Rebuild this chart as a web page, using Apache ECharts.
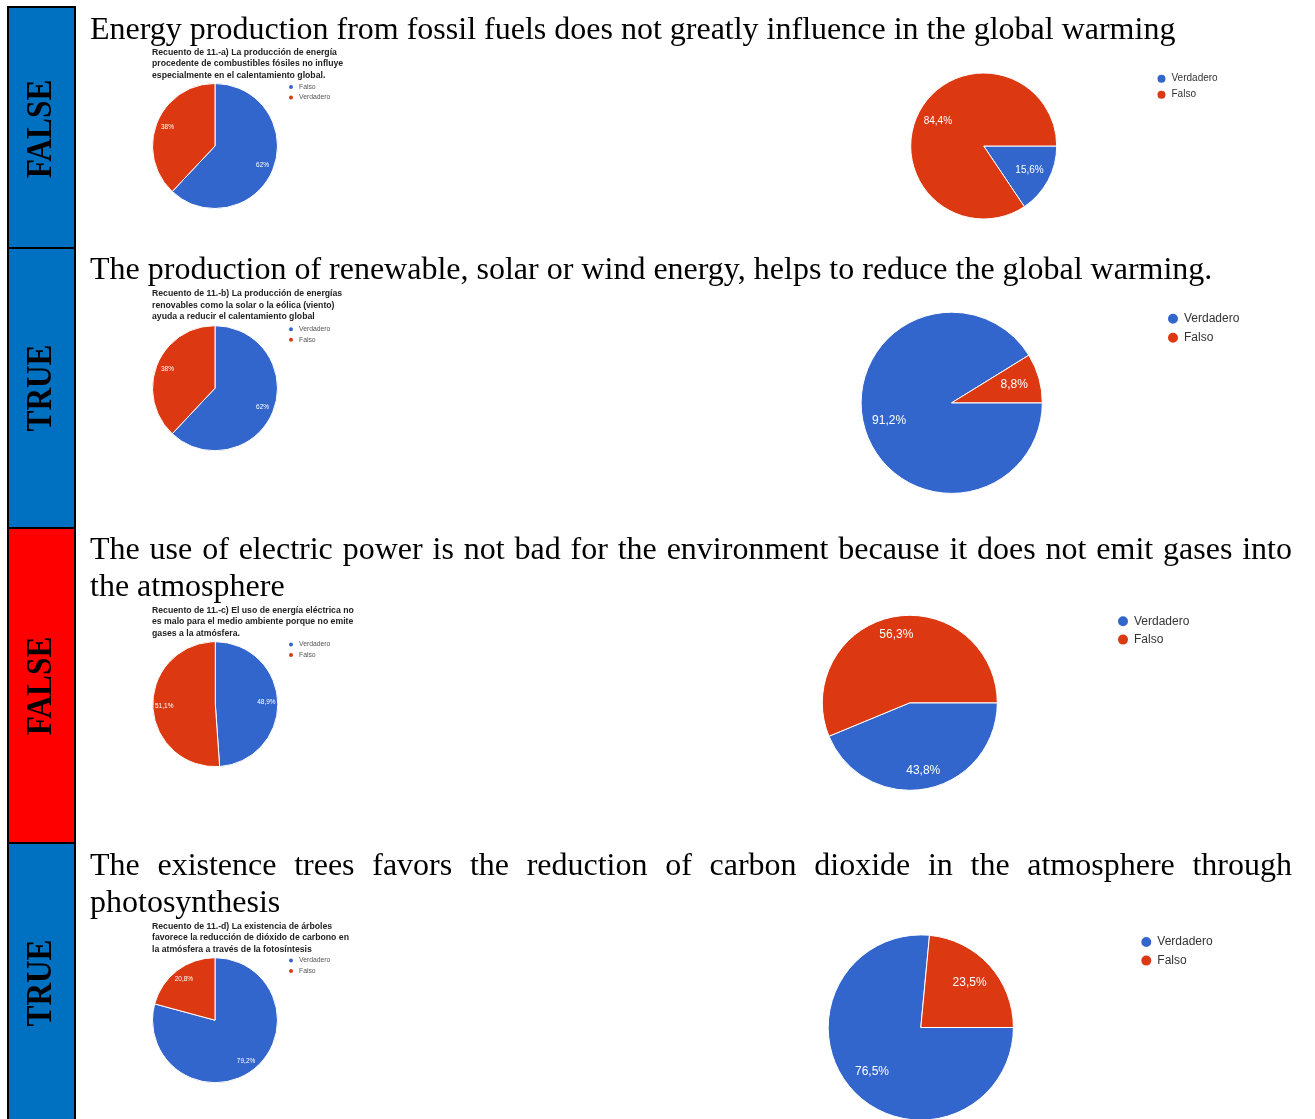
<!DOCTYPE html>
<html><head><meta charset="utf-8">
<script src="https://cdn.jsdelivr.net/npm/echarts@6/dist/echarts.min.js"></script>
<style>html,body{margin:0;padding:0;background:#fff;overflow:hidden}#c{width:1315px;height:1119px}</style>
</head><body><div id="c"></div>
<script>
// ---------- data ----------
const bandLabels = ['FALSE', 'TRUE', 'FALSE', 'TRUE'];
const headingLines = [
  ['Energy production from fossil fuels does not greatly influence in the global warming'],
  ['The production of renewable, solar or wind energy, helps to reduce the global warming.'],
  ['The use of electric power is not bad for the environment because it does not emit gases into', 'the atmosphere'],
  ['The existence trees favors the reduction of carbon dioxide in the atmosphere through', 'photosynthesis']
];
const smallTitles = [
  ['Recuento de 11.-a) La producción de energía', 'procedente de combustibles fósiles no influye', 'especialmente en el calentamiento global.'],
  ['Recuento de 11.-b) La producción de energías', 'renovables como la solar o la eólica (viento)', 'ayuda a reducir el calentamiento global'],
  ['Recuento de 11.-c) El uso de energía eléctrica no', 'es malo para el medio ambiente porque no emite', 'gases a la atmósfera.'],
  ['Recuento de 11.-d) La existencia de árboles', 'favorece la reducción de dióxido de carbono en', 'la atmósfera a través de la fotosíntesis']
];
const smallNames = [['Falso', 'Verdadero'], ['Verdadero', 'Falso'], ['Verdadero', 'Falso'], ['Verdadero', 'Falso']];
const smallValues = [[62, 38], [62, 38], [48.9, 51.1], [79.2, 20.8]];
const bigNames = [['Verdadero', 'Falso'], ['Verdadero', 'Falso'], ['Verdadero', 'Falso'], ['Verdadero', 'Falso']];
const bigValues = [[15.6, 84.4], [91.2, 8.8], [43.8, 56.3], [76.5, 23.5]];

// ---------- layout & style ----------
const BLUE = '#3366CC', RED = '#DC3912';
const bandColors = ['#0070C0', '#0070C0', '#FF0000', '#0070C0'];
const bands = [[7, 248], [248, 528], [528, 843], [843, 1125]];
const bandTextY = [129, 388, 686, 983];
const headingFont = 32;
const headingY = [[30.8], [271], [551, 587.5], [867, 903.5]];
const headingJustify = [[false], [false], [true, false], [true, false]];
const headingLeft = 90, headingRight = 1292;
const smallPies = [
  { cx: 215, cy: 146, titleY: 52.5, legY: 87 },
  { cx: 215, cy: 388.2, titleY: 293.8, legY: 329.3 },
  { cx: 215.3, cy: 704.2, titleY: 610.7, legY: 644.5 },
  { cx: 215, cy: 1020.2, titleY: 926.7, legY: 960.5 }
];
const SMALL_R = 62.5;
const bigPies = [
  { cx: 983.7, cy: 146, r: 73, k: 0.67, fs: 10, lx: 1155.5, ly: 78.7, lgap: 16, icon: 10, lfs: 10 },
  { cx: 951.7, cy: 402.8, r: 90.6, k: 0.685, fs: 12, lx: 1166, ly: 319, lgap: 19.4, icon: 12, lfs: 12 },
  { cx: 909.8, cy: 702.8, r: 87.5, k: 0.755, fs: 12, lx: 1116, ly: 621.4, lgap: 18.8, icon: 12, lfs: 12 },
  { cx: 920.8, cy: 1027.5, r: 92.6, k: 0.68, fs: 12, lx: 1139.3, ly: 942.2, lgap: 19, icon: 12, lfs: 12 }
];
const SERIF = '"Liberation Serif", "Times New Roman", serif';
const SANS = '"Liberation Sans", Arial, sans-serif';

function fmt(v) {
  return (Number.isInteger(v) ? String(v) : v.toFixed(1).replace('.', ',')) + '%';
}

// ---------- graphic elements ----------
const mctx = document.createElement('canvas').getContext('2d');
const elements = [];
bands.forEach((b, i) => {
  elements.push({
    type: 'rect', shape: { x: 8, y: b[0], width: 67, height: b[1] - b[0] },
    style: { fill: bandColors[i], stroke: '#000', lineWidth: 2 }, z: 1
  });
  elements.push({
    type: 'text', x: 42, y: bandTextY[i], rotation: Math.PI / 2, scaleX: 0.87,
    style: { text: bandLabels[i], fontSize: 36, fontWeight: 'bold', fontFamily: SERIF, fill: '#000',
      textAlign: 'center', textVerticalAlign: 'middle' }, z: 2
  });
});
headingLines.forEach((lines, i) => {
  lines.forEach((line, j) => {
    const y = headingY[i][j];
    if (headingJustify[i][j]) {
      mctx.font = headingFont + 'px ' + SERIF;
      const words = line.split(' ');
      const widths = words.map(w => mctx.measureText(w).width);
      const total = widths.reduce((a, b) => a + b, 0);
      const gap = (headingRight - headingLeft - total) / (words.length - 1);
      let x = headingLeft;
      words.forEach((w, k) => {
        elements.push({ type: 'text', x: x, y: y,
          style: { text: w, fontSize: headingFont, fontFamily: SERIF, fill: '#000', textVerticalAlign: 'middle' } });
        x += widths[k] + gap;
      });
    } else {
      elements.push({ type: 'text', x: headingLeft, y: y,
        style: { text: line, fontSize: headingFont, fontFamily: SERIF, fill: '#000', textVerticalAlign: 'middle' } });
    }
  });
});
smallPies.forEach((p, i) => {
  smallTitles[i].forEach((t, j) => {
    elements.push({ type: 'text', x: 152, y: p.titleY + j * 11.4,
      style: { text: t, fontSize: 8.7, fontWeight: 'bold', fontFamily: SANS, fill: '#222', textVerticalAlign: 'middle' } });
  });
});

// ---------- series & legends ----------
const series = [];
const legends = [];
function addPie(cx, cy, r, k, names, vals, startAngle, fs) {
  const data = names.map((n, i) => ({ name: n, value: vals[i], itemStyle: { color: i === 0 ? BLUE : RED } }));
  series.push({
    type: 'pie', center: [cx, cy], radius: r, startAngle: startAngle, clockwise: true,
    avoidLabelOverlap: false, silent: true, z: 2,
    label: { show: false }, labelLine: { show: false },
    itemStyle: { borderColor: '#fff', borderWidth: 1 },
    emphasis: { disabled: true }, data: data
  });
  series.push({
    type: 'pie', center: [cx, cy], radius: [r * (2 * k - 1), r], startAngle: startAngle, clockwise: true,
    avoidLabelOverlap: false, silent: true, z: 3,
    itemStyle: { color: 'rgba(0,0,0,0)', borderWidth: 0 },
    label: { show: true, position: 'inside', color: '#fff', fontSize: fs, fontFamily: SANS,
      formatter: p => fmt(p.value) },
    labelLine: { show: false }, emphasis: { disabled: true },
    data: names.map((n, i) => ({ name: n, value: vals[i] }))
  });
}
smallPies.forEach((p, i) => {
  addPie(p.cx, p.cy, SMALL_R, 0.77, smallNames[i], smallValues[i], 90, 6.5);
  const h = 6.8 * 1.2;
  legends.push({
    orient: 'vertical', left: 287, top: p.legY - h / 2, padding: 0, itemWidth: 6, itemHeight: 6, itemGap: 10.7 - h,
    icon: 'circle', selectedMode: false,
    textStyle: { fontSize: 6.8, color: '#555', fontFamily: SANS },
    data: smallNames[i].map((n, k) => ({ name: n, itemStyle: { color: k === 0 ? BLUE : RED } }))
  });
});
bigPies.forEach((p, i) => {
  addPie(p.cx, p.cy, p.r, p.k, bigNames[i], bigValues[i], 0, p.fs);
  const h = Math.max(p.icon, p.lfs * 1.2);
  legends.push({
    orient: 'vertical', left: p.lx, top: p.ly - h / 2, padding: 0, itemWidth: p.icon, itemHeight: p.icon,
    itemGap: p.lgap - h, icon: 'circle', selectedMode: false,
    textStyle: { fontSize: p.lfs, color: '#333', fontFamily: SANS },
    data: bigNames[i].map((n, k) => ({ name: n, itemStyle: { color: k === 0 ? BLUE : RED } }))
  });
});

const chart = echarts.init(document.getElementById('c'), null, { renderer: 'canvas' });
chart.setOption({
  backgroundColor: '#fff',
  animation: false,
  legend: legends,
  series: series,
  graphic: { elements: elements }
});
</script>
</body></html>
